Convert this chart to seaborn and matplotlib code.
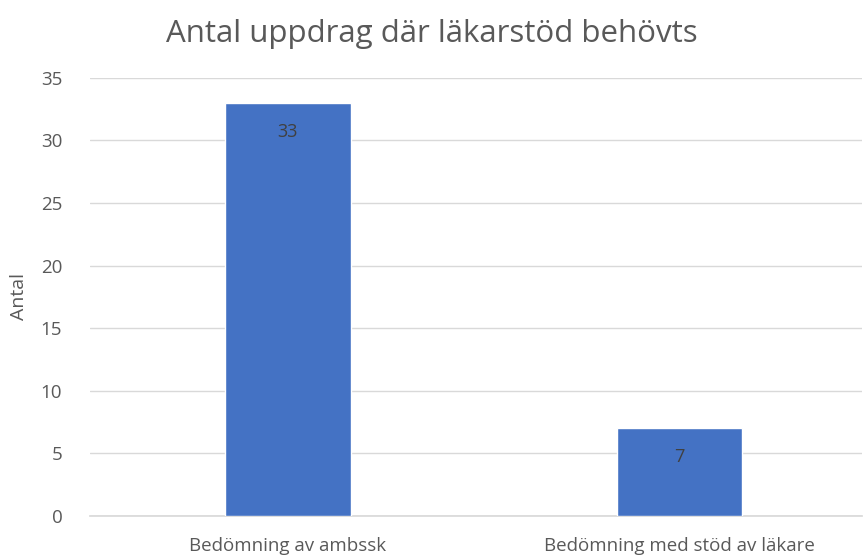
import pandas as pd
import seaborn as sns
import matplotlib.pyplot as plt

# Data
categories = ["Bedömning av ambssk", "Bedömning med stöd av läkare"]
values = [33, 7]

df = pd.DataFrame({"kategori": categories, "antal": values})

sns.set_theme(style="white")
plt.rcParams['font.family'] = ['Open Sans', 'DejaVu Sans']

fig = plt.figure(figsize=(8.64, 5.56), dpi=100)
ax = fig.add_axes([0.1042, 0.072, 0.8935, 0.788])

sns.barplot(data=df, x="kategori", y="antal", color="#4472C4", width=0.32,
            saturation=1, ax=ax, zorder=3)

ax.set_xlim(-0.505, 1.465)
ax.set_ylim(0, 35)
ax.set_yticks(range(0, 36, 5))
ax.grid(axis="y", color="#D9D9D9", linewidth=1, zorder=0)
for s in ["top", "right", "left"]:
    ax.spines[s].set_visible(False)
ax.spines["bottom"].set_color("#D9D9D9")
ax.tick_params(axis="both", length=0, labelsize=13.5, colors="#595959")
ax.tick_params(axis="x", pad=15)
ax.tick_params(axis="y", pad=20)
ax.set_xlabel("")
ax.set_ylabel("Antal", fontsize=14, color="#595959", labelpad=9)

# Value labels inside bar tops
for i, v in enumerate(values):
    ax.text(i, v - 2.3, str(v), ha="center", va="center", fontsize=13, color="#404040", zorder=4)

fig.suptitle("Antal uppdrag där läkarstöd behövts", fontsize=22.5, color="#595959", y=0.966)

plt.savefig("out.png", dpi=100)
